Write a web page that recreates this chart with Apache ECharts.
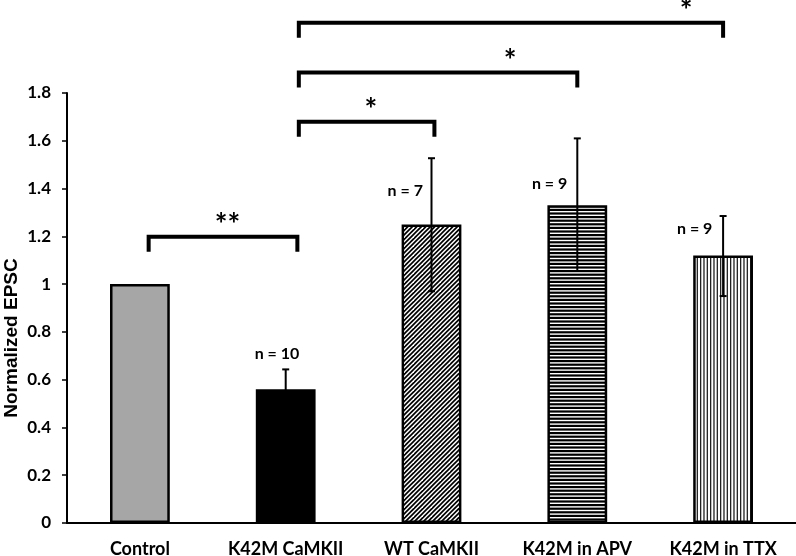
<!DOCTYPE html>
<html><head><meta charset="utf-8">
<script src="https://cdn.jsdelivr.net/npm/echarts@6/dist/echarts.min.js"></script>
<style>html,body{margin:0;padding:0;background:#fff}#c{width:796px;height:556px}</style>
</head><body><div id="c"></div>
<script>
// ---- data ----
const categories = ['Control', 'K42M CaMKII', 'WT CaMKII', 'K42M in APV', 'K42M in TTX'];
const means = [1.0, 0.56, 1.25, 1.33, 1.12];
const errLow = [null, 0.48, 0.97, 1.055, 0.95];
const errHigh = [null, 0.643, 1.527, 1.61, 1.285];
const nLabels = ['', 'n = 10', 'n = 7', 'n = 9', 'n = 9'];
const nLabelY = [null, 0.71, 1.39, 1.42, 1.23];
const yMin = 0, yMax = 1.8, yStep = 0.2;
const yTitle = 'Normalized EPSC';
// significance brackets: from / to (category units), height (value units), label
const bracketFrom = [0.06, 1.09, 1.09, 1.09];
const bracketTo = [1.08, 2.02, 3.0, 4.0];
const bracketLevel = [1.198, 1.68, 1.886, 2.094];
const bracketLabel = ['**', '*', '*', '*'];
const bracketLabelX = [0.6, 1.585, 2.54, 3.746];

// ---- layout constants ----
const nLabelDx = [0, -0.06, -0.18, -0.19, -0.195];
const FONT = 'Lato, "Open Sans", sans-serif';

function makePattern(w, h, draw) {
  const c = document.createElement('canvas');
  c.width = w; c.height = h;
  const g = c.getContext('2d');
  g.fillStyle = '#fff'; g.fillRect(0, 0, w, h);
  draw(g, w, h);
  return { image: c, repeat: 'repeat' };
}
const diagPattern = makePattern(9, 9, (g) => {
  g.strokeStyle = '#000'; g.lineWidth = 1.7;
  for (let c = -9; c <= 27; c += 4.5) {
    g.beginPath(); g.moveTo(c + 2, -2); g.lineTo(c - 11, 11); g.stroke();
  }
});
const horizPattern = makePattern(4, 18, (g) => {
  g.fillStyle = '#000';
  for (let k = 0; k < 5; k++) g.fillRect(0, k * 3.6, 4, 2.2);
});
const vertPattern = makePattern(10, 4, (g) => {
  g.fillStyle = '#222';
  for (let k = 0; k < 3; k++) g.fillRect(k * 3.333, 0, 1.3, 4);
});
const fills = ['#a6a6a6', '#000000', diagPattern, horizPattern, vertPattern];

const chart = echarts.init(document.getElementById('c'), null, { renderer: 'canvas' });

const errData = [];
categories.forEach((c, i) => { if (errLow[i] != null) errData.push([i, errLow[i], errHigh[i]]); });
const nData = [];
categories.forEach((c, i) => { if (nLabels[i]) nData.push([i + nLabelDx[i], nLabelY[i], i]); });
const brData = bracketFrom.map((f, k) => [f, bracketTo[k], bracketLevel[k], bracketLabelX[k]]);

chart.setOption({
  animation: false,
  grid: { left: 67, right: 0, top: 93, bottom: 33, containLabel: false, outerBoundsMode: 'none' },
  graphic: [{
    type: 'text', x: 12, y: 338, rotation: Math.PI / 2,
    style: { text: yTitle, fill: '#000', font: 'bold 19px "Liberation Sans", Arial, sans-serif', align: 'center', verticalAlign: 'middle' }
  }],
  xAxis: [{
    type: 'category', data: categories,
    axisLine: { lineStyle: { color: '#000', width: 2 } },
    axisTick: { show: false },
    axisLabel: { interval: 0, hideOverlap: false, color: '#000', fontFamily: FONT, fontWeight: 'bold', fontSize: 18, margin: 17 }
  }, {
    type: 'value', min: -0.5, max: 4.5, show: false
  }],
  yAxis: {
    type: 'value', min: yMin, max: yMax, interval: yStep,
    axisLine: { show: true, onZero: false, lineStyle: { color: '#000', width: 2 } },
    axisTick: { show: true, length: 5, lineStyle: { color: '#000', width: 1.5 } },
    splitLine: { show: false },
    axisLabel: { color: '#000', fontFamily: FONT, fontWeight: 'bold', fontSize: 17, margin: 16 }
  },
  series: [{
    type: 'bar', barWidth: '41%',
    data: means.map((v, i) => ({ value: v, itemStyle: { color: fills[i], borderColor: '#000', borderWidth: 2.5 } })),
    z: 2
  }, {
    type: 'custom', z: 5, data: errData,
    renderItem: (params, api) => {
      const i = api.value(0);
      const top = api.coord([i, api.value(2)]);
      const bot = api.coord([i, api.value(1)]);
      const st = { stroke: '#000', lineWidth: 2 };
      return { type: 'group', children: [
        { type: 'line', shape: { x1: top[0], y1: top[1], x2: bot[0], y2: bot[1] }, style: st },
        { type: 'line', shape: { x1: top[0] - 3.5, y1: top[1], x2: top[0] + 3.5, y2: top[1] }, style: st },
        { type: 'line', shape: { x1: bot[0] - 3.5, y1: bot[1], x2: bot[0] + 3.5, y2: bot[1] }, style: st }
      ] };
    }
  }, {
    type: 'custom', xAxisIndex: 1, z: 6, data: nData,
    renderItem: (params, api) => {
      const p = api.coord([api.value(0), api.value(1)]);
      const idx = api.value(2);
      return { type: 'text', x: p[0], y: p[1], style: {
        text: nLabels[idx], fill: '#000', font: 'bold 16px ' + FONT, align: 'center', verticalAlign: 'middle' } };
    }
  }, {
    type: 'custom', xAxisIndex: 1, z: 6, clip: false, data: brData,
    renderItem: (params, api) => {
      const k = params.dataIndex;
      const a = api.coord([api.value(0), api.value(2)]);
      const b = api.coord([api.value(1), api.value(2)]);
      const lx = api.coord([api.value(3), api.value(2)])[0];
      const leg = 15;
      return { type: 'group', children: [
        { type: 'polyline', shape: { points: [[a[0], a[1] + leg], [a[0], a[1]], [b[0], b[1]], [b[0], b[1] + leg]] },
          style: { stroke: '#000', lineWidth: 4, fill: null, lineJoin: 'miter', lineCap: 'butt' } },
        { type: 'text', x: lx, y: a[1] - 11, style: {
          text: bracketLabel[k], fill: '#000', font: 'bold 30px ' + FONT, align: 'center', verticalAlign: 'middle' } }
      ] };
    }
  }]
});
</script></body></html>
